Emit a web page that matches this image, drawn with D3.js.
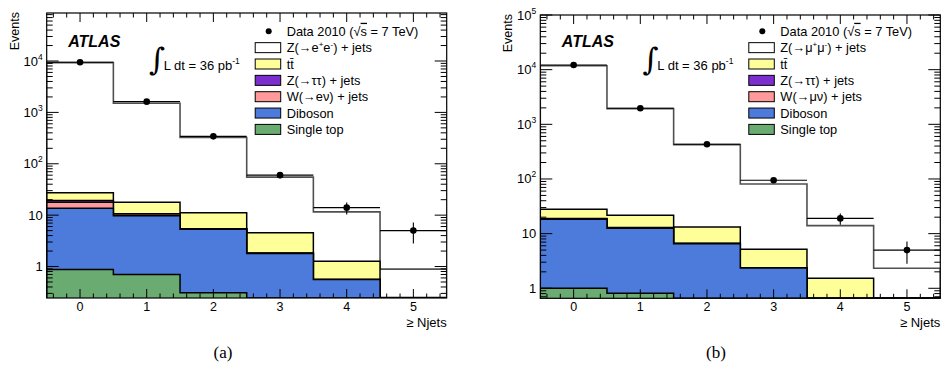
<!DOCTYPE html>
<html><head><meta charset="utf-8">
<script src="https://cdn.jsdelivr.net/npm/d3@7"></script>
<style>
html,body{margin:0;padding:0;background:#fff;}
svg{font-family:"Liberation Sans",Arial,Helvetica,sans-serif;}
</style>
</head><body>
<svg id="chart" width="941" height="389"></svg>
<script>
// ---------------- data ----------------
const bins = [0, 1, 2, 3, 4, 5];
const xTickLabels = ["0", "1", "2", "3", "4", "5"];
const xAxisTitle = "\u2265 Njets";
const yAxisTitle = "Events";
const captions = ["(a)", "(b)"];

// (a) electron channel
const eeData      = [9480, 1617, 342, 60, 14, 5];
const eeDataErr   = [97, 40, 18.5, 7.7, 3.7, 2.2];
const eeZ         = [9273, 1486, 313, 50.5, 10.3, 0.64];
const eeTtbar     = [8.0, 7.2, 5.65, 2.7, 0.71, 0.15];
const eeZtautau   = [1.3, 0.2, 0.05, 0.01, 0.0, 0.0];
const eeW         = [4.2, 0.8, 0.1, 0.02, 0.0, 0.0];
const eeDiboson   = [12.8, 9.0, 5.0, 1.7, 0.53, 0.1];
const eeSingleTop = [0.88, 0.70, 0.31, 0.1, 0.03, 0.0];

// (b) muon channel
const mmData      = [12170, 1964, 431, 95, 19, 5];
const mmDataErr   = [110, 44, 21, 9.7, 4.4, 2.2];
const mmZ         = [11772, 1918, 412, 75.8, 12.5, 1.92];
const mmTtbar     = [9.0, 8.8, 6.55, 2.79, 0.92, 0.3];
const mmZtautau   = [0.2, 0.1, 0.05, 0.01, 0.0, 0.0];
const mmW         = [0.3, 0.2, 0.05, 0.02, 0.0, 0.0];
const mmDiboson   = [17.4, 11.8, 6.25, 2.25, 0.55, 0.1];
const mmSingleTop = [1.0, 0.81, 0.3, 0.1, 0.05, 0.0];

const stackKeys = ["singleTop", "diboson", "w", "ztautau", "ttbar", "z"];
const stackColors = {
  singleTop: "#6aab72", diboson: "#4d7bdb", w: "#ff9a9a",
  ztautau: "#7d2ecf", ttbar: "#ffff99", z: "#ffffff"
};
const eeLegend = ["Data 2010", "Z(\u2192e+e-) + jets", "tt\u0304", "Z(\u2192\u03c4\u03c4) + jets", "W(\u2192e\u03bd) + jets", "Diboson", "Single top"];
const mmLegend = ["Data 2010", "Z(\u2192\u03bc+\u03bc-) + jets", "tt\u0304", "Z(\u2192\u03c4\u03c4) + jets", "W(\u2192\u03bc\u03bd) + jets", "Diboson", "Single top"];

// ---------------- drawing ----------------
const svg = d3.select("#chart");

function drawPanel(cfg) {
  const {x0, x1, yTop, yBot, ymin, ymax, series, data, dataErr, legend, isMu, idx} = cfg;
  const g = svg.append("g");
  const x = d3.scaleLinear().domain([-0.5, 5.5]).range([x0, x1]);
  const y = d3.scaleLog().domain([ymin, ymax]).range([yBot, yTop]).clamp(true);

  const clipId = "clip" + idx;
  svg.append("clipPath").attr("id", clipId).append("rect")
    .attr("x", x0).attr("y", yTop).attr("width", x1 - x0).attr("height", yBot - yTop);

  const rows = bins.map((b, i) => {
    const o = {bin: b};
    stackKeys.forEach(k => o[k] = series[k][i]);
    return o;
  });
  const stacked = d3.stack().keys(stackKeys)(rows);

  const plot = g.append("g").attr("clip-path", `url(#${clipId})`);
  stacked.slice().reverse().forEach(layer => {
    const key = layer.key;
    let p = d3.path();
    p.moveTo(x(-0.5), yBot + 2);
    layer.forEach((d, i) => {
      const top = Math.max(d[1], ymin * 0.5);
      p.lineTo(x(bins[i] - 0.5), y(top));
      p.lineTo(x(bins[i] + 0.5), y(top));
    });
    p.lineTo(x(5.5), yBot + 2);
    p.closePath();
    plot.append("path").attr("d", p.toString())
      .attr("fill", stackColors[key])
      .attr("stroke", key === "z" ? "#505050" : "#000")
      .attr("stroke-width", key === "z" ? 1.6 : 1.5)
      .attr("stroke-linejoin", "miter");
  });

  // data points
  const dg = plot.append("g");
  bins.forEach((b, i) => {
    dg.append("line").attr("x1", x(b - 0.5)).attr("x2", x(b + 0.5))
      .attr("y1", y(data[i])).attr("y2", y(data[i]))
      .attr("stroke", "#000").attr("stroke-width", 1.1);
    dg.append("line").attr("x1", x(b)).attr("x2", x(b))
      .attr("y1", y(data[i] - dataErr[i])).attr("y2", y(data[i] + dataErr[i]))
      .attr("stroke", "#000").attr("stroke-width", 1.1);
    dg.append("circle").attr("cx", x(b)).attr("cy", y(data[i])).attr("r", 3.3).attr("fill", "#000");
  });

  // frame
  g.append("rect").attr("x", x0).attr("y", yTop).attr("width", x1 - x0).attr("height", yBot - yTop)
    .attr("fill", "none").attr("stroke", "#000").attr("stroke-width", 1.2);

  // x ticks (bottom & top)
  const tg = g.append("g").attr("stroke", "#000").attr("stroke-width", 1);
  for (let k = -2; k <= 27; k++) {
    const v = k * 0.2;
    if (v < -0.5 || v > 5.5) continue;
    const major = Math.abs(v - Math.round(v)) < 1e-6;
    const len = major ? 9 : 4.5;
    tg.append("line").attr("x1", x(v)).attr("x2", x(v)).attr("y1", yBot).attr("y2", yBot - len);
    tg.append("line").attr("x1", x(v)).attr("x2", x(v)).attr("y1", yTop).attr("y2", yTop + len);
  }
  // y ticks (left & right)
  const lo = Math.floor(Math.log10(ymin)), hi = Math.ceil(Math.log10(ymax));
  for (let e = lo; e <= hi; e++) {
    for (let m = 1; m <= 9; m++) {
      const v = m * Math.pow(10, e);
      if (v < ymin || v > ymax * 1.0001) continue;
      const len = m === 1 ? 12 : 6;
      tg.append("line").attr("x1", x0).attr("x2", x0 + len).attr("y1", y(v)).attr("y2", y(v));
      tg.append("line").attr("x1", x1).attr("x2", x1 - len).attr("y1", y(v)).attr("y2", y(v));
    }
  }

  // x tick labels
  bins.forEach((b, i) => {
    g.append("text").attr("x", x(b)).attr("y", 311).attr("text-anchor", "middle")
      .attr("font-size", 12.5).text(xTickLabels[i]);
  });
  g.append("text").attr("x", x1).attr("y", 326.5).attr("text-anchor", "end")
    .attr("font-size", 13).text(xAxisTitle);

  // y tick labels
  for (let e = Math.ceil(Math.log10(ymin)); e <= Math.floor(Math.log10(ymax) + 1e-9); e++) {
    const v = Math.pow(10, e);
    const t = g.append("text").attr("x", x0 - 4).attr("y", y(v) + 4.5).attr("text-anchor", "end").attr("font-size", 13);
    if (e === 0) t.text("1");
    else if (e === 1) t.text("10");
    else {
      t.append("tspan").text("10");
      t.append("tspan").attr("dy", -6).attr("font-size", 8.5).text(String(e));
    }
  }
  // y axis title
  g.append("text").attr("transform", `translate(${x0 - 28},${yTop - 1}) rotate(-90)`)
    .attr("text-anchor", "end").attr("font-size", 12.5).text(yAxisTitle);

  // ATLAS label
  g.append("text").attr("x", x0 + 21.5).attr("y", 47).attr("font-size", 16)
    .attr("font-weight", "bold").attr("font-style", "italic").text("ATLAS");
  // luminosity
  g.append("text").attr("x", x0 + 102).attr("y", 70).attr("font-size", 31)
    .style("font-family", "'DejaVu Serif','DejaVu Sans',serif").text("\u222b");
  const lt = g.append("text").attr("x", x0 + 117).attr("y", 69.5).attr("font-size", 13);
  lt.append("tspan").text("L dt = 36 pb");
  lt.append("tspan").attr("dy", -6).attr("font-size", 8.5).text("-1");

  // legend
  const lx = x0 + 208.5, rowY0 = 31.3, rowH = 16.35;
  legend.forEach((lab, i) => {
    const cy = rowY0 + i * rowH;
    if (i === 0) {
      g.append("circle").attr("cx", lx + 13.5).attr("cy", cy).attr("r", 3).attr("fill", "#000");
      const t = g.append("text").attr("x", lx + 31.5).attr("y", cy + 4.5).attr("font-size", 12.8);
      t.append("tspan").text("Data 2010 (\u221a");
      t.append("tspan").attr("text-decoration", "overline").text("s");
      t.append("tspan").text(" = 7 TeV)");
    } else {
      const key = ["z", "ttbar", "ztautau", "w", "diboson", "singleTop"][i - 1];
      g.append("rect").attr("x", lx).attr("y", cy - 5).attr("width", 25.5).attr("height", 10)
        .attr("fill", stackColors[key]).attr("stroke", "#000").attr("stroke-width", 1);
      const t = g.append("text").attr("x", lx + 31.5).attr("y", cy + 4.5).attr("font-size", 12.8);
      if (i === 1) {
        const lep = isMu ? "\u03bc" : "e";
        t.append("tspan").text("Z(\u2192" + lep);
        t.append("tspan").attr("dy", -5).attr("font-size", 8).text("+");
        t.append("tspan").attr("dy", 5).text(lep);
        t.append("tspan").attr("dy", -5).attr("font-size", 8).text("-");
        t.append("tspan").attr("dy", 5).text(") + jets");
      } else {
        t.text(lab);
      }
    }
  });

  // caption
  svg.append("text").attr("x", cfg.capX).attr("y", 358).attr("text-anchor", "middle")
    .style("font-family", "'Liberation Serif','DejaVu Serif',serif").attr("font-size", 17)
    .text(captions[idx]);
}

drawPanel({
  idx: 0, x0: 46.7, x1: 446.7, yTop: 13, yBot: 298, ymin: 0.244, ymax: 86000,
  series: {singleTop: eeSingleTop, diboson: eeDiboson, w: eeW, ztautau: eeZtautau, ttbar: eeTtbar, z: eeZ},
  data: eeData, dataErr: eeDataErr, legend: eeLegend, isMu: false, capX: 223
});
drawPanel({
  idx: 1, x0: 540.3, x1: 940.3, yTop: 15, yBot: 298.3, ymin: 0.656, ymax: 100000,
  series: {singleTop: mmSingleTop, diboson: mmDiboson, w: mmW, ztautau: mmZtautau, ttbar: mmTtbar, z: mmZ},
  data: mmData, dataErr: mmDataErr, legend: mmLegend, isMu: true, capX: 716
});
</script>
</body></html>
